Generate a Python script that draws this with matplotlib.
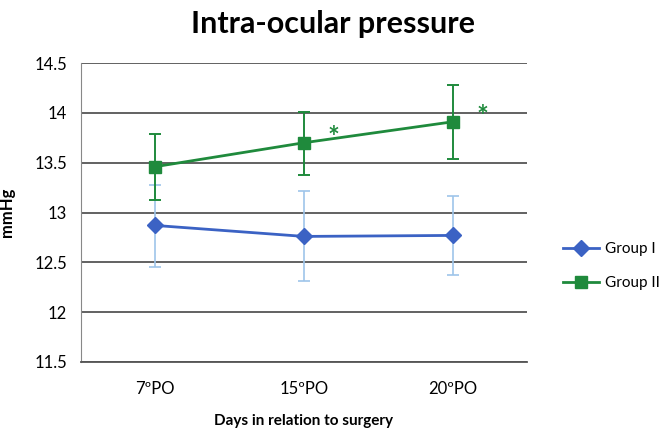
import numpy as np
import matplotlib
matplotlib.use("Agg")
import matplotlib.pyplot as plt

plt.rcParams['font.family'] = ['Lato', 'DejaVu Sans']

# --- data ---
days = ["7ºPO", "15ºPO", "20ºPO"]
group1 = [12.87, 12.76, 12.77]
group1_lo = [12.45, 12.31, 12.37]
group1_hi = [13.28, 13.22, 13.17]
group2 = [13.46, 13.70, 13.91]
group2_lo = [13.13, 13.38, 13.54]
group2_hi = [13.79, 14.01, 14.28]
star_idx = [1, 2]

BLUE = '#3b62c4'
LIGHT_BLUE = '#9ec5ea'
GREEN = '#1f8a3c'

x = np.arange(len(days))
g1 = np.array(group1)
g2 = np.array(group2)
err1 = [g1 - np.array(group1_lo), np.array(group1_hi) - g1]
err2 = [g2 - np.array(group2_lo), np.array(group2_hi) - g2]

fig = plt.figure(figsize=(6.64, 4.38), dpi=100)
ax = fig.add_axes([81/664, 1 - 362/438, 446/664, 299/438])

ax.errorbar(x, g1, yerr=err1, fmt='none', ecolor=LIGHT_BLUE, elinewidth=1.2,
            capsize=4, capthick=1.2, zorder=2)
ax.errorbar(x, g2, yerr=err2, fmt='none', ecolor=GREEN, elinewidth=1.4,
            capsize=4, capthick=1.4, zorder=3)
ax.plot(x, g1, color=BLUE, marker='D', markersize=8, linewidth=2,
        label='Group I', zorder=4)
ax.plot(x, g2, color=GREEN, marker='s', markersize=9, linewidth=2,
        label='Group II', zorder=5)

# significance marks next to Group II points
for i in star_idx:
    ax.text(x[i] + 0.2, g2[i] + 0.05, '*', color=GREEN, fontsize=20,
            fontweight='bold', ha='center', va='center')

ax.set_xlim(-0.5, 2.5)
ax.set_ylim(11.5, 14.5)
ax.set_xticks(x)
ax.set_xticklabels(days, fontsize=12)
ticks = [11.5, 12, 12.5, 13, 13.5, 14, 14.5]
ax.set_yticks(ticks)
ax.set_yticklabels([f"{t:g}" for t in ticks], fontsize=12)
ax.tick_params(length=0, pad=10)
ax.tick_params(axis='x', pad=14)
ax.yaxis.grid(True, color='#555555', linewidth=1.3)
ax.set_axisbelow(True)
for s in ['top', 'right']:
    ax.spines[s].set_visible(False)
ax.spines['left'].set_color('#888888')
ax.spines['bottom'].set_color('#555555')
ax.spines['bottom'].set_linewidth(1.3)

ax.set_ylabel('mmHg', fontsize=12, fontweight='bold', labelpad=14)
ax.set_xlabel('Days in relation to surgery', fontsize=11, fontweight='bold', labelpad=12)
fig.text(333/664, 1 - 24/438, 'Intra-ocular pressure', fontsize=22,
         fontweight='bold', ha='center', va='center')

fig.legend(loc='center left', bbox_to_anchor=(549/664, 1 - 266/438), frameon=False,
           fontsize=11, handlelength=2.4, labelspacing=1.3, handletextpad=0.35)

fig.savefig('out.png', dpi=100)
